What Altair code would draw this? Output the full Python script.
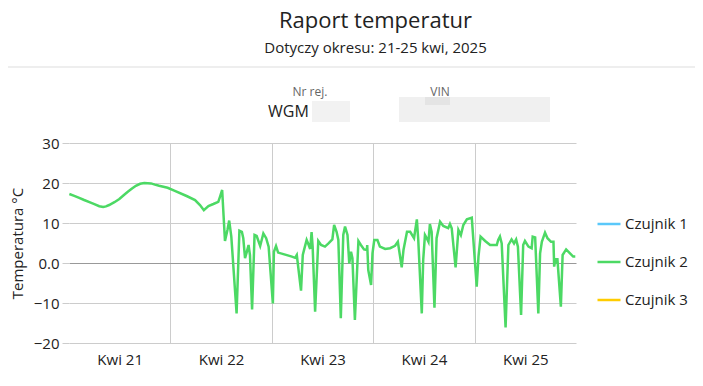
import altair as alt
import pandas as pd

FONT = "Open Sans"

sensors = ["Czujnik 1", "Czujnik 2", "Czujnik 3"]
sensor_colors = ["#5AC8FA", "#4CD964", "#FFCC00"]

day_labels = ["Kwi 21", "Kwi 22", "Kwi 23", "Kwi 24", "Kwi 25"]

# Czujnik 2 readings, per day (time of day, temperature °C)
times_21 = ["00:05", "01:15", "02:25", "03:35", "04:50", "06:00", "07:10", "08:05", "08:45",
            "09:30", "10:45", "11:55", "13:00", "13:55", "14:55", "15:50", "16:50", "17:50",
            "19:25", "20:20", "21:20", "23:20"]
temps_21 = [17.25, 16.8, 16.3, 15.75, 15.2, 14.7, 14.2, 14.0, 14.15, 14.5, 15.2, 16.0, 17.0,
            17.8, 18.6, 19.3, 19.8, 20.0, 19.9, 19.6, 19.3, 18.8]

times_22 = ["00:55", "03:50", "05:50", "07:00", "07:55", "09:00", "10:10", "11:20", "11:45",
            "12:15", "12:55", "13:30", "13:55", "14:25", "15:40", "16:20", "16:55", "17:15",
            "17:40", "18:05", "18:30", "18:50", "19:20", "19:55", "20:25", "21:15", "22:00",
            "22:40", "23:15"]
temps_22 = [18.1, 16.75, 15.75, 14.5, 13.2, 14.25, 14.75, 15.3, 16.6, 18.25, 5.5, 8.25, 10.6,
            6.6, -12.6, 8.1, 7.8, 6.2, 1.2, 2.8, 4.5, 2.0, -11.6, 7.0, 6.75, 4.25, 7.4, 6.2, 4.1]

times_23 = ["00:15", "00:30", "01:00", "01:30", "03:10", "04:45", "05:30", "05:55", "06:55",
            "07:20", "07:40", "08:15", "08:40", "09:05", "09:25", "09:40", "10:15", "11:00",
            "11:40", "12:35", "13:25", "14:20", "14:45", "15:20", "15:45", "16:20", "16:55",
            "17:20", "17:55", "18:20", "18:45", "19:05", "19:40", "20:30", "21:05", "21:50",
            "22:30", "22:35", "22:50", "23:30", "23:50"]
temps_23 = [-10.1, 2.8, 4.25, 2.6, 2.1, 1.6, 1.3, 2.0, -6.9, 2.0, 3.4, 5.75, 4.7, 3.5, 7.7, 4.1,
            -12.2, 5.5, 4.5, 4.1, 4.9, 5.9, 9.5, 7.8, 5.75, -13.8, 7.0, 9.1, 7.0, -0.1, 2.8, 1.2,
            -14.25, 5.5, 4.5, 3.4, 3.25, 4.5, -1.75, -5.5, 2.4]

times_24 = ["00:15", "01:00", "01:35", "02:50", "04:00", "05:10", "05:50", "06:45", "07:10",
            "08:00", "08:45", "09:40", "10:20", "10:40", "11:30", "11:50", "12:15", "12:40",
            "13:05", "13:25", "13:50", "14:30", "15:00", "15:50", "16:35", "17:45", "18:10",
            "18:35", "19:30", "20:10", "20:45", "21:20", "22:10", "23:20"]
temps_24 = [5.75, 5.75, 4.1, 3.5, 3.7, 4.3, 5.3, -1.1, 3.25, 7.8, 7.8, 6.2, 10.9, 5.75, -12.6,
            0.75, 7.0, 6.2, 5.3, 9.75, 7.8, -11.2, 6.2, 10.3, 9.25, 8.7, 9.75, 8.7, -1.1, 8.25,
            7.0, 9.5, 10.9, 11.3]

times_25 = ["00:30", "00:55", "01:25", "02:30", "03:40", "05:15", "05:35", "06:00", "06:25",
            "07:20", "08:00", "08:45", "09:20", "09:50", "10:15", "11:00", "11:30", "11:55",
            "12:45", "13:30", "13:45", "14:20", "15:05", "15:30", "15:55", "16:40", "17:15",
            "18:05", "18:40", "18:50", "19:10", "19:25", "19:35", "20:25", "20:50", "21:40",
            "22:35", "23:20", "23:50"]
temps_25 = [-5.9, 1.6, 6.6, 5.5, 4.5, 4.5, 5.75, 6.6, 4.9, -16.1, 4.5, 5.9, 4.9, 5.9, 4.1, -13.0,
            4.5, 5.5, 4.1, 3.7, 6.6, 6.4, -12.6, 2.4, 5.3, 7.6, 6.2, 5.3, 5.3, -0.9, 1.2, -0.1,
            1.2, -10.9, 2.0, 3.4, 2.4, 1.6, 1.6]

rows = []
for day, ts, vs in [(21, times_21, temps_21), (22, times_22, temps_22), (23, times_23, temps_23),
                    (24, times_24, temps_24), (25, times_25, temps_25)]:
    for t, v in zip(ts, vs):
        rows.append({"time": f"2025-04-{day}T{t}:00", "temp": v, "sensor": "Czujnik 2"})
df = pd.DataFrame(rows)

day_values = [alt.DateTime(year=2025, month=4, date=d) for d in [21, 22, 23, 24, 25]]
x_domain = [alt.DateTime(year=2025, month=4, date=21), alt.DateTime(year=2025, month=4, date=26)]

label_expr = "['" + "','".join(day_labels) + "'][date(datum.value) - 21]"

line = alt.Chart(df).mark_line(strokeWidth=2.5).encode(
    x=alt.X("time:T", title=None,
            scale=alt.Scale(domain=x_domain),
            axis=alt.Axis(values=day_values, labelExpr=label_expr, labelOffset=50.7,
                          labelFlush=False, labelOverlap=False, ticks=False, domain=False,
                          grid=True, gridColor="#cccccc",
                          gridOpacity={"condition": {"test": "date(datum.value) == 21", "value": 0},
                                       "value": 1},
                          labelFontSize=15, labelColor="#222", labelFont=FONT, labelPadding=9)),
    y=alt.Y("temp:Q", title="Temperatura °C",
            scale=alt.Scale(domain=[-20, 30]),
            axis=alt.Axis(values=[-20, -10, 0, 10, 20, 30],
                          labelExpr="datum.value == 0 ? '0.0' : datum.label",
                          domain=False, tickSize=7, tickColor="#cccccc",
                          grid=True,
                          gridColor={"condition": {"test": "datum.value == 0", "value": "#999999"},
                                     "value": "#cccccc"},
                          labelFontSize=15, labelColor="#222", labelFont=FONT, labelPadding=3,
                          titleFontSize=15, titleFontWeight="normal", titleColor="#222",
                          titleFont=FONT, titleX=-52, titleY=100, titleAlign="center",
                          titleBaseline="middle")),
    color=alt.Color("sensor:N", scale=alt.Scale(domain=sensors, range=sensor_colors),
                    legend=alt.Legend(title=None, orient="none", legendX=527, legendY=68,
                                      symbolType="stroke", symbolSize=529, symbolStrokeWidth=2.5,
                                      labelFontSize=15, labelColor="#222", labelFont=FONT,
                                      labelOffset=3, rowPadding=17)),
)


def note(text, x, y, size, color, align="center"):
    return alt.Chart(pd.DataFrame({"t": [text]})).mark_text(
        fontSize=size, color=color, align=align, baseline="middle", font=FONT
    ).encode(text="t:N", x=alt.value(x), y=alt.value(y))


def blur(x, x2, y, y2, color):
    return alt.Chart(pd.DataFrame({"t": [0]})).mark_rect(color=color).encode(
        x=alt.value(x), x2=alt.value(x2), y=alt.value(y), y2=alt.value(y2))


divider = alt.Chart(pd.DataFrame({"t": [0]})).mark_rule(color="#dddddd", strokeWidth=1).encode(
    x=alt.value(-61), x2=alt.value(634), y=alt.value(-76))

chart = alt.layer(
    divider,
    blur(243, 281, -42, -21, "#f2f2f2"),
    blur(330, 481, -46, -21, "#f0f0f0"),
    blur(356, 381, -46, -38, "#e4e4e4"),
    note("Nr rej.", 241, -51, 12, "#666666"),
    note("VIN", 371, -51, 12, "#666666"),
    note("WGM", 199, -31, 16, "#222222", align="left"),
    line,
).properties(
    width=507, height=200,
    title=alt.TitleParams("Raport temperatur", subtitle="Dotyczy okresu: 21-25 kwi, 2025",
                          anchor="middle", frame="group", dx=53, offset=10,
                          fontSize=22, fontWeight="normal", font=FONT, color="#222",
                          subtitleFontSize=15, subtitleFont=FONT, subtitleColor="#222",
                          subtitlePadding=8),
    autosize=alt.AutoSizeParams(type="none"),
    padding={"left": 61, "top": 135, "right": 119, "bottom": 30},
).configure_view(stroke=None)

chart.save("out.html", embed_options={"renderer": "svg", "actions": False})
